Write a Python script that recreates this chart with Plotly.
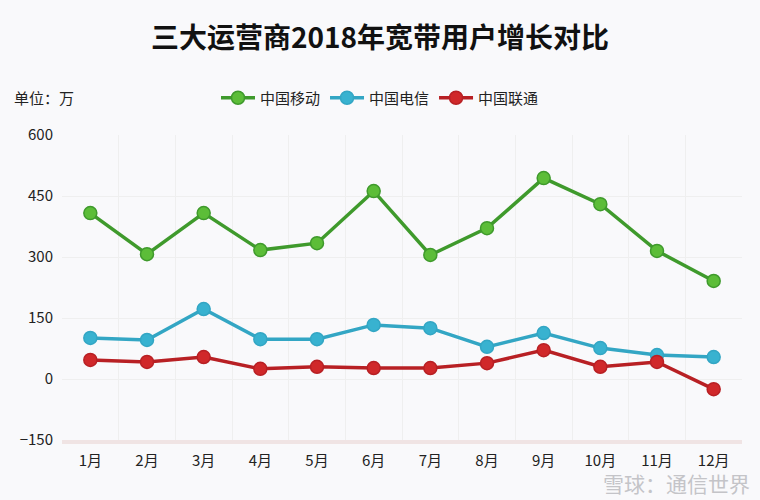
import plotly.graph_objects as go

months = ["1月", "2月", "3月", "4月", "5月", "6月", "7月", "8月", "9月", "10月", "11月", "12月"]
mobile = [408, 307, 408, 317, 334, 462, 305, 371, 494, 430, 315, 241]
telecom = [101, 96, 172, 98, 98, 133, 125, 79, 113, 76, 59, 54]
unicom = [47, 42, 54, 25, 30, 27, 27, 39, 71, 30, 42, -25]
y_ticks = [-150, 0, 150, 300, 450, 600]

series = [
    ("中国移动", mobile, "#3f9a2c", "#5cbd38"),
    ("中国电信", telecom, "#33a6c4", "#38b2d0"),
    ("中国联通", unicom, "#b82024", "#d0282a"),
]

fig = go.Figure()
for name, vals, lc, mc in series:
    fig.add_trace(go.Scatter(
        x=months, y=vals, name=name, mode="lines+markers",
        line=dict(color=lc, width=3.5),
        marker=dict(size=13, color=mc, line=dict(color=lc, width=1.5)),
    ))

font = "Noto Sans CJK SC"
PL, PR, PT, PB = 62, 18, 135, 60
PW, PH = 760 - PL - PR, 500 - PT - PB


def px_x(x):
    return (x - PL) / PW


def px_y(y):
    return (500 - PB - y) / PH


fig.update_layout(
    width=760, height=500,
    paper_bgcolor="#f9f9fb", plot_bgcolor="#f9f9fb",
    margin=dict(l=PL, r=PR, t=PT, b=PB, autoexpand=False),
    font=dict(family=font, size=14, color="#222"),
    title=dict(text="<b>三大运营商2018年宽带用户增长对比</b>", x=0.5, xanchor="center",
               y=1 - 38 / 500, yanchor="middle", font=dict(size=28, color="#111", family=font)),
    legend=dict(orientation="h", x=px_x(380), xanchor="center", y=px_y(98), yanchor="middle",
                font=dict(size=15, family=font, color="#222"), bgcolor="rgba(0,0,0,0)",
                itemwidth=34, tracegroupgap=0),
    showlegend=True,
    annotations=[
        dict(text="单位：万", x=px_x(12), y=px_y(97), xref="paper", yref="paper", showarrow=False,
             font=dict(size=15, color="#222", family=font), xanchor="left", yanchor="middle"),
        dict(text="雪球：通信世界", x=px_x(752), y=px_y(483), xref="paper", yref="paper", showarrow=False,
             font=dict(size=21, color="#c4c4c8", family=font),
             xanchor="right", yanchor="middle"),
    ],
)

fig.update_xaxes(
    type="category", range=[-0.5, 11.5], tickson="boundaries", showgrid=True,
    gridcolor="#efefef", gridwidth=1,
    showline=True, linecolor="#f0e4e4", linewidth=4, ticks="", tickfont=dict(size=15, color="#222"),
    ticklabelstandoff=4, zeroline=False, automargin=False,
)
fig.update_yaxes(
    range=[-150, 600], tickvals=y_ticks, showgrid=True, gridcolor="#efefef", gridwidth=1,
    zeroline=False, showline=False, ticks="", tickfont=dict(size=15, color="#222"),
    ticklabelstandoff=8, automargin=False,
)

fig.write_html("out.html", config={"displayModeBar": False},
               post_script="document.body.style.margin='0';")
